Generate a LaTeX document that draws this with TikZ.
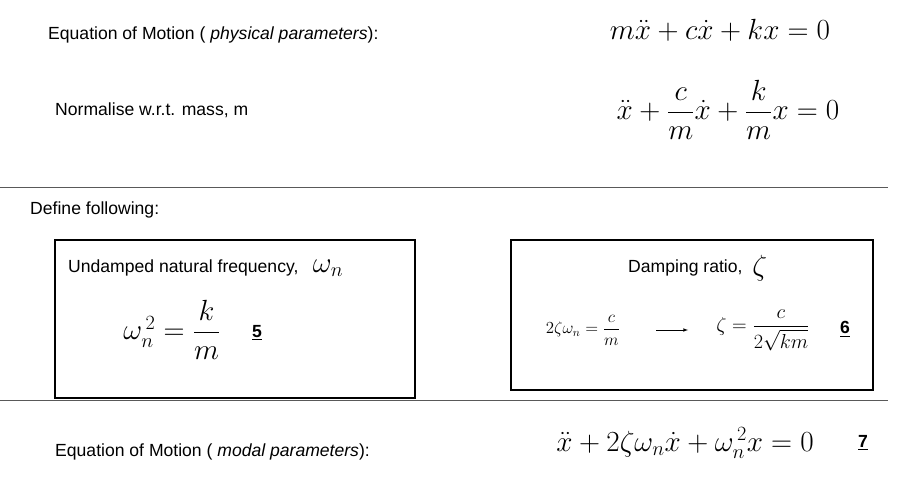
\documentclass[tikz,border=0pt]{standalone}
\usepackage{fontspec}
\setmainfont{Liberation Sans}
\usepackage{amsmath}
\usetikzlibrary{positioning}
\tikzset{label/.style={anchor=west,inner sep=0pt,font=\fontsize{15}{17}\selectfont},
  eqn/.style={inner sep=0pt,font=\fontsize{23}{26}\selectfont},
  defbox/.style={draw,line width=2.2pt},
  rule/.style={draw,gray!70!black,line width=0.6pt}}
\begin{document}
\begin{tikzpicture}[x=0.03cm,y=-0.03cm]
\useasboundingbox (0,0) rectangle (902,482);
\node[label] (eomphys) at (48,35) {Equation of Motion ( \textit{physical parameters}):};
\node[eqn] (eqphys) at (720,30) {$m\ddot{x}+c\dot{x}+kx=0$};
\node[label] (norm) at (55,110) {Normalise w.r.t. mass, m};
\node[eqn] (eqnorm) at (728,110) {$\ddot{x}+\dfrac{c}{m}\dot{x}+\dfrac{k}{m}x=0$};
\draw[rule] (0,187) -- (888,187);
\node[label] (define) at (30,210) {Define following:};
% boxes
\draw[defbox] (55,240) rectangle (415,398);
\draw[defbox] (511,240) rectangle (873,390);
\node[label] (undamped) at (68,268) {Undamped natural frequency,};
\node[eqn,right=12pt of undamped] (omn) {$\omega_n$};
\node[eqn] (omdef) at (172,330) {$\omega_n^{\,2}=\dfrac{k}{m}$};
\node[label,font=\bfseries\fontsize{15}{17}\selectfont] (five) at (252,333) {\underline{5}};
\node[label] (dampratio) at (628,268) {Damping ratio,};
\node[eqn,right=8pt of dampratio] (zeta) {$\zeta$};
\node[inner sep=0pt,font=\fontsize{14}{16}\selectfont] (zdef) at (583,330) {$2\zeta\omega_n=\dfrac{c}{m}$};
\node[inner sep=0pt,font=\fontsize{16}{18}\selectfont] (zsol) at (763,330) {$\zeta=\dfrac{c}{2\sqrt{km}}$};
\draw[-latex] (656,330) -- (688,330);
\node[label,font=\bfseries\fontsize{15}{17}\selectfont] (six) at (840,329) {\underline{6}};
\draw[rule] (0,400) -- (888,400);
\node[label] (eommodal) at (55,452) {Equation of Motion ( \textit{modal parameters}):};
\node[eqn] (eqmodal) at (685,443) {$\ddot{x}+2\zeta\omega_n\dot{x}+\omega_n^{\,2}x=0$};
\node[label,font=\bfseries\fontsize{15}{17}\selectfont] (seven) at (858,443) {\underline{7}};
\end{tikzpicture}
\end{document}
